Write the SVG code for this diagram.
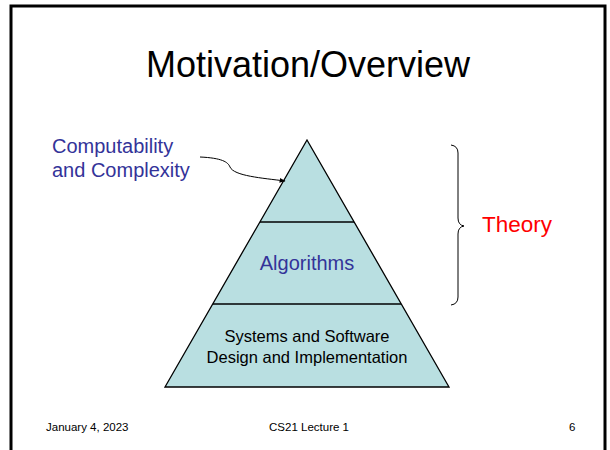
<svg xmlns="http://www.w3.org/2000/svg" width="610" height="450" viewBox="0 0 610 450">
  <style>
    text { font-family: "Liberation Sans", Arial, sans-serif; }
    .blue { fill: #333399; }
    .layer { fill: #B9DFE1; stroke: #000; stroke-width: 1.3; stroke-linejoin: miter; }
    .sep { stroke: #000; stroke-width: 1.3; }
    .foot { font-size: 11.5px; fill: #000; }
  </style>
  <defs>
    <marker id="arrow" viewBox="0 0 10 10" refX="9" refY="5" markerWidth="6" markerHeight="6" orient="auto" markerUnits="userSpaceOnUse">
      <path d="M0,1 L10,5 L0,9 Z" fill="#000"/>
    </marker>
  </defs>

  <rect x="0" y="0" width="610" height="450" fill="#fff"/>
  <!-- slide frame -->
  <rect x="11" y="6" width="594" height="470" fill="none" stroke="#000" stroke-width="3"/>

  <text x="308" y="77" font-size="36" text-anchor="middle" fill="#000">Motivation/Overview</text>

  <!-- pyramid with its two layer separators -->
  <g id="pyramid">
    <polygon class="layer" points="307,140 449,387 165,387"/>
    <line class="sep" x1="260" y1="222" x2="354" y2="222"/>
    <line class="sep" x1="213" y1="304" x2="401" y2="304"/>
  </g>
  <g id="algorithms-layer">
    <text x="307" y="270" font-size="20" text-anchor="middle" class="blue">Algorithms</text>
  </g>
  <g id="systems-layer">
    <text x="307" y="342" font-size="16.5" text-anchor="middle" fill="#000">Systems and Software</text>
    <text x="307" y="363" font-size="16.5" text-anchor="middle" fill="#000">Design and Implementation</text>
  </g>

  <g id="computability-label">
    <text x="52" y="153" font-size="20" class="blue">Computability</text>
    <text x="52" y="177" font-size="20" class="blue">and Complexity</text>
  </g>

  <g id="theory-label">
    <text x="482" y="232" font-size="22.5" fill="#FF0000">Theory</text>
  </g>

  <g id="connectors">
    <path d="M200,157 C222,158 228,162 230,167 C234,176 262,178 285,181" fill="none" stroke="#000" stroke-width="1" marker-end="url(#arrow)"/>
    <!-- brace spanning the theory layers -->
    <path d="M451,145 Q458,146 458,153 L458,218 Q458,225 464,226 Q458,227 458,234 L458,297 Q458,304 451,305" fill="none" stroke="#000" stroke-width="1"/>
  </g>

  <g id="footer">
    <text class="foot" x="46" y="431">January 4, 2023</text>
    <text class="foot" x="309" y="431" text-anchor="middle">CS21 Lecture 1</text>
    <text class="foot" x="569" y="431">6</text>
  </g>
</svg>
